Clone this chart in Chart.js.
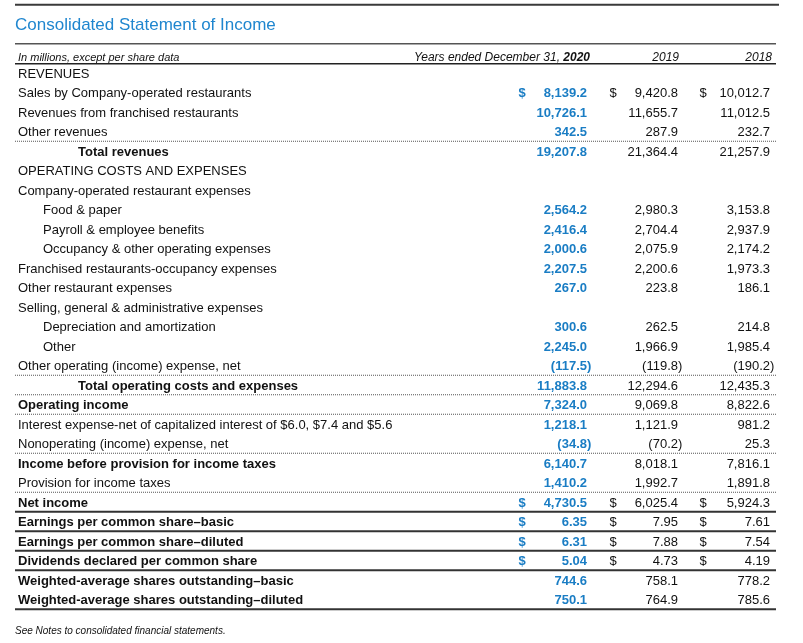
<!DOCTYPE html>
<html>
<head>
<meta charset="utf-8">
<title>Consolidated Statement of Income</title>
<script src="https://cdn.jsdelivr.net/npm/chart.js@4"></script>
<style>
    html, body { margin: 0; padding: 0; background: #fff; }
    #stmt { display: block; }
</style>
</head>
<body>
<canvas id="stmt" width="803" height="643"></canvas>
<script>
// Consolidated Statement of Income - drawn as a table on a Chart.js canvas

const years = ['2020', '2019', '2018'];

const rowLabels = [
    'REVENUES',
    'Sales by Company-operated restaurants',
    'Revenues from franchised restaurants',
    'Other revenues',
    'Total revenues',
    'OPERATING COSTS AND EXPENSES',
    'Company-operated restaurant expenses',
    'Food & paper',
    'Payroll & employee benefits',
    'Occupancy & other operating expenses',
    'Franchised restaurants-occupancy expenses',
    'Other restaurant expenses',
    'Selling, general & administrative expenses',
    'Depreciation and amortization',
    'Other',
    'Other operating (income) expense, net',
    'Total operating costs and expenses',
    'Operating income',
    'Interest expense-net of capitalized interest of $6.0, $7.4 and $5.6',
    'Nonoperating (income) expense, net',
    'Income before provision for income taxes',
    'Provision for income taxes',
    'Net income',
    'Earnings per common share\u2013basic',
    'Earnings per common share\u2013diluted',
    'Dividends declared per common share',
    'Weighted-average shares outstanding\u2013basic',
    'Weighted-average shares outstanding\u2013diluted'
];

const values2020 = [null, 8139.2, 10726.1, 342.5, 19207.8, null, null, 2564.2, 2416.4, 2000.6, 2207.5, 267.0, null,
    300.6, 2245.0, -117.5, 11883.8, 7324.0, 1218.1, -34.8, 6140.7, 1410.2, 4730.5, 6.35, 6.31, 5.04, 744.6, 750.1];
const values2019 = [null, 9420.8, 11655.7, 287.9, 21364.4, null, null, 2980.3, 2704.4, 2075.9, 2200.6, 223.8, null,
    262.5, 1966.9, -119.8, 12294.6, 9069.8, 1121.9, -70.2, 8018.1, 1992.7, 6025.4, 7.95, 7.88, 4.73, 758.1, 764.9];
const values2018 = [null, 10012.7, 11012.5, 232.7, 21257.9, null, null, 3153.8, 2937.9, 2174.2, 1973.3, 186.1, null,
    214.8, 1985.4, -190.2, 12435.3, 8822.6, 981.2, 25.3, 7816.1, 1891.8, 5924.3, 7.61, 7.54, 4.19, 778.2, 785.6];

// row roles
const boldRows = [4, 16, 17, 20, 22, 23, 24, 25, 26, 27];
const indentRows = [7, 8, 9, 13, 14];
const totalRows = [4, 16];
const dollarRows = [1, 22, 23, 24, 25];
const perShareRows = [23, 24, 25];
const dottedAfter = [3, 15, 16, 17, 19, 21];
const solidAfter = [22, 23, 24, 25, 27];

// layout (x in canvas units, y in row units)
const FONT = "'Liberation Sans', Arial, sans-serif";
const BLUE = '#1a7dc4';
const TITLE_BLUE = '#1f86cf';
const INK = '#111';
const TEXT_NUDGE = 1.2;   // px, sits glyphs a touch lower than the em middle
const col = { left: 15, right: 776, label: 18, indent: 43, total: 78, dollar: [522, 613, 703], num: [587, 678, 770] };

const seriesValues = [values2020, values2019, values2018];

function fmt(v, row) {
    const d = perShareRows.includes(row) ? 2 : 1;
    const s = Math.abs(v).toLocaleString('en-US', { minimumFractionDigits: d, maximumFractionDigits: d });
    return v < 0 ? '(' + s : s;
}

const tablePlugin = {
    id: 'statementTable',
    afterDatasetsDraw(chart) {
        const ctx = chart.ctx;
        const xs = chart.scales.x, ys = chart.scales.y;
        const X = v => xs.getPixelForValue(v);
        const Y = v => ys.getPixelForValue(v);
        const TY = v => Y(v) + TEXT_NUDGE;
        ctx.save();
        ctx.textBaseline = 'middle';

        const hline = (y, w, color, dash, x1) => {
            ctx.beginPath();
            ctx.setLineDash(dash || []);
            ctx.lineWidth = w;
            ctx.strokeStyle = color;
            ctx.moveTo(X(col.left), y);
            ctx.lineTo(X(x1 || col.right), y);
            ctx.stroke();
        };

        // title block
        hline(Y(-3.5), 2, '#3a3a3a', null, 779);
        ctx.fillStyle = TITLE_BLUE;
        ctx.font = '17px ' + FONT;
        ctx.textAlign = 'left';
        ctx.fillText('Consolidated Statement of Income', X(col.left), TY(-2.5));
        hline(Y(-1.5), 1.5, '#555');

        // header row
        const hy = TY(-0.84);
        ctx.fillStyle = INK;
        ctx.font = 'italic 11px ' + FONT;
        ctx.fillText('In millions, except per share data', X(col.label), hy);
        ctx.textAlign = 'right';
        ctx.font = 'italic bold 12px ' + FONT;
        const yr = years[0];
        ctx.fillText(yr, X(col.num[0] + 3), hy);
        const yw = ctx.measureText(yr).width;
        ctx.font = 'italic 12px ' + FONT;
        ctx.fillText('Years ended December 31, ', X(col.num[0] + 3) - yw, hy);
        ctx.fillText(years[1], X(col.num[1] + 1), hy);
        ctx.fillText(years[2], X(col.num[2] + 2), hy);
        hline(Y(-0.47), 1.5, '#222');

        // separators
        dottedAfter.forEach(r => hline(Y(r + 0.5), 1, '#555', [1, 1]));
        solidAfter.forEach(r => hline(Y(r + 0.5), 2, '#333'));

        // row labels
        rowLabels.forEach((lab, r) => {
            ctx.font = (boldRows.includes(r) ? 'bold ' : '') + '13px ' + FONT;
            ctx.fillStyle = INK;
            ctx.textAlign = 'left';
            const x = totalRows.includes(r) ? col.total : indentRows.includes(r) ? col.indent : col.label;
            ctx.fillText(lab, X(x), TY(r));
        });

        // values, placed by the library from each dataset's points
        chart.data.datasets.forEach((ds, di) => {
            const meta = chart.getDatasetMeta(di);
            const isCurrent = di === 0;
            ctx.font = (isCurrent ? 'bold ' : '') + '13px ' + FONT;
            ctx.fillStyle = isCurrent ? BLUE : INK;
            meta.data.forEach((el, i) => {
                const p = ds.data[i];
                const y = el.y + TEXT_NUDGE;
                ctx.textAlign = 'right';
                ctx.fillText(fmt(p.v, p.y), el.x, y);
                if (p.v < 0) {
                    ctx.textAlign = 'left';
                    ctx.fillText(')', el.x, y);
                }
                if (dollarRows.includes(p.y)) {
                    ctx.textAlign = 'center';
                    ctx.fillText('$', X(col.dollar[di]), y);
                }
            });
        });

        // footnote
        ctx.textAlign = 'left';
        ctx.fillStyle = INK;
        ctx.font = 'italic 10px ' + FONT;
        ctx.fillText('See Notes to consolidated financial statements.', X(col.left), TY(28.55));
        ctx.restore();
    }
};

function buildPoints(values, ci) {
    const pts = [];
    values.forEach((v, r) => {
        if (v !== null) pts.push({ x: col.num[ci], y: r, v: v });
    });
    return pts;
}

const ROW_H = 19.5, FIRST_ROW = 73, H = 643, W = 803;
const yMin = -FIRST_ROW / ROW_H;

new Chart(document.getElementById('stmt'), {
    type: 'scatter',
    data: {
        datasets: years.map((y, i) => ({
            label: y,
            data: buildPoints(seriesValues[i], i),
            pointRadius: 0,
            pointHoverRadius: 0
        }))
    },
    options: {
        responsive: false,
        animation: false,
        events: [],
        layout: { padding: 0 },
        plugins: { legend: { display: false }, tooltip: { enabled: false } },
        scales: {
            x: { type: 'linear', min: 0, max: W, display: false },
            y: { type: 'linear', reverse: true, min: yMin, max: yMin + H / ROW_H, display: false }
        }
    },
    plugins: [tablePlugin]
});
</script>
</body>
</html>
